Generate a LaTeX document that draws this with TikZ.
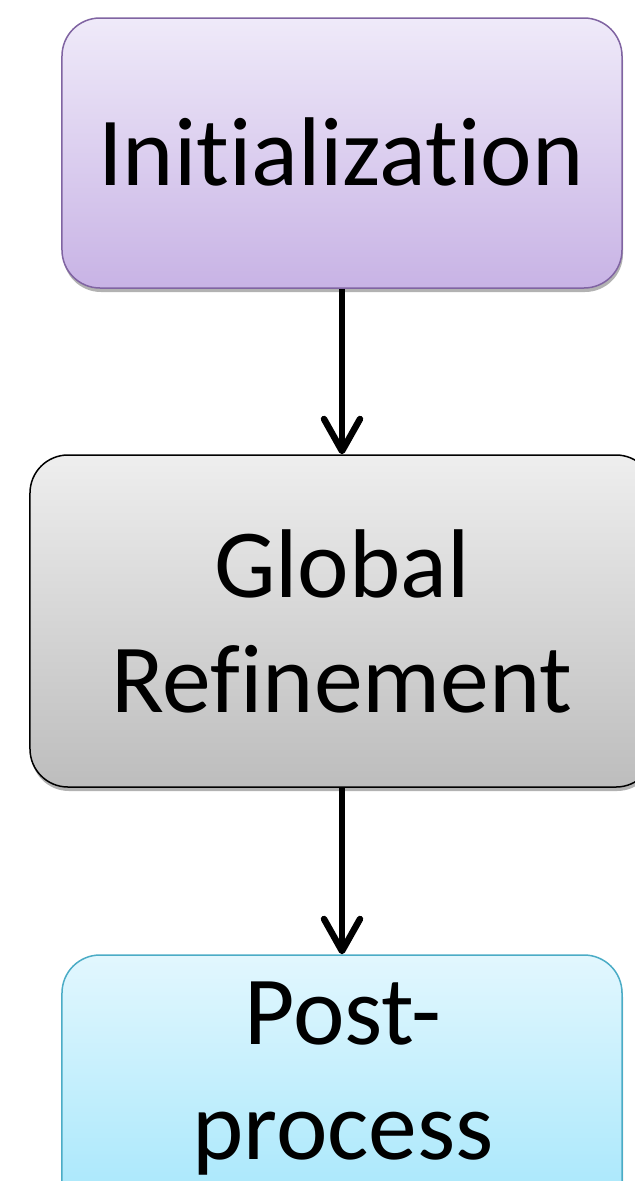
\documentclass[tikz,border=0pt]{standalone}
\usepackage{fontspec}
\setmainfont[Ligatures=NoCommon]{Carlito}
\usetikzlibrary{arrows.meta,shadows}
\definecolor{puT}{HTML}{EFEAF9}
\definecolor{puB}{HTML}{C8B3E5}
\definecolor{puD}{HTML}{8064A2}
\definecolor{grT}{HTML}{EEEEEE}
\definecolor{grB}{HTML}{BDBDBD}
\definecolor{cyT}{HTML}{E2F7FE}
\definecolor{cyB}{HTML}{A3E6FB}
\definecolor{cyD}{HTML}{4BACC6}
\begin{document}
\begin{tikzpicture}[x=1bp,y=-1bp,
  box/.style={draw, rounded corners=38bp, line width=1.5bp, inner sep=0pt,
    drop shadow={shadow xshift=1bp, shadow yshift=-4bp, opacity=0.3, fill=black}},
  lbl/.style={font=\fontsize{98}{115}\selectfont, align=center, inner sep=0pt, anchor=base},
  flow/.style={line width=6.5bp, -{Straight Barb[round, length=32bp, width=36bp]}}]
\useasboundingbox (0,0) rectangle (635,1181);
\node[box, draw=puD, top color=puT, bottom color=puB, minimum width=560bp, minimum height=270bp] (init) at (342,153) {};
\node[box, draw=black, top color=grT, bottom color=grB, minimum width=624bp, minimum height=332bp] (glob) at (342,621) {};
\node[box, draw=cyD, top color=cyT, bottom color=cyB, minimum width=560bp, minimum height=270bp] (post) at (342,1090) {};
\node[lbl] (tinit) at (341,185) {Initialization};
\node[lbl] (tglob) at (342,712) {Global\\Refinement};
\node[lbl] (tpost) at (343,1159) {Post-\\process};
\draw[flow] (init.south) -- (glob.north);
\draw[flow] (glob.south) -- (post.north);
\end{tikzpicture}
\end{document}
